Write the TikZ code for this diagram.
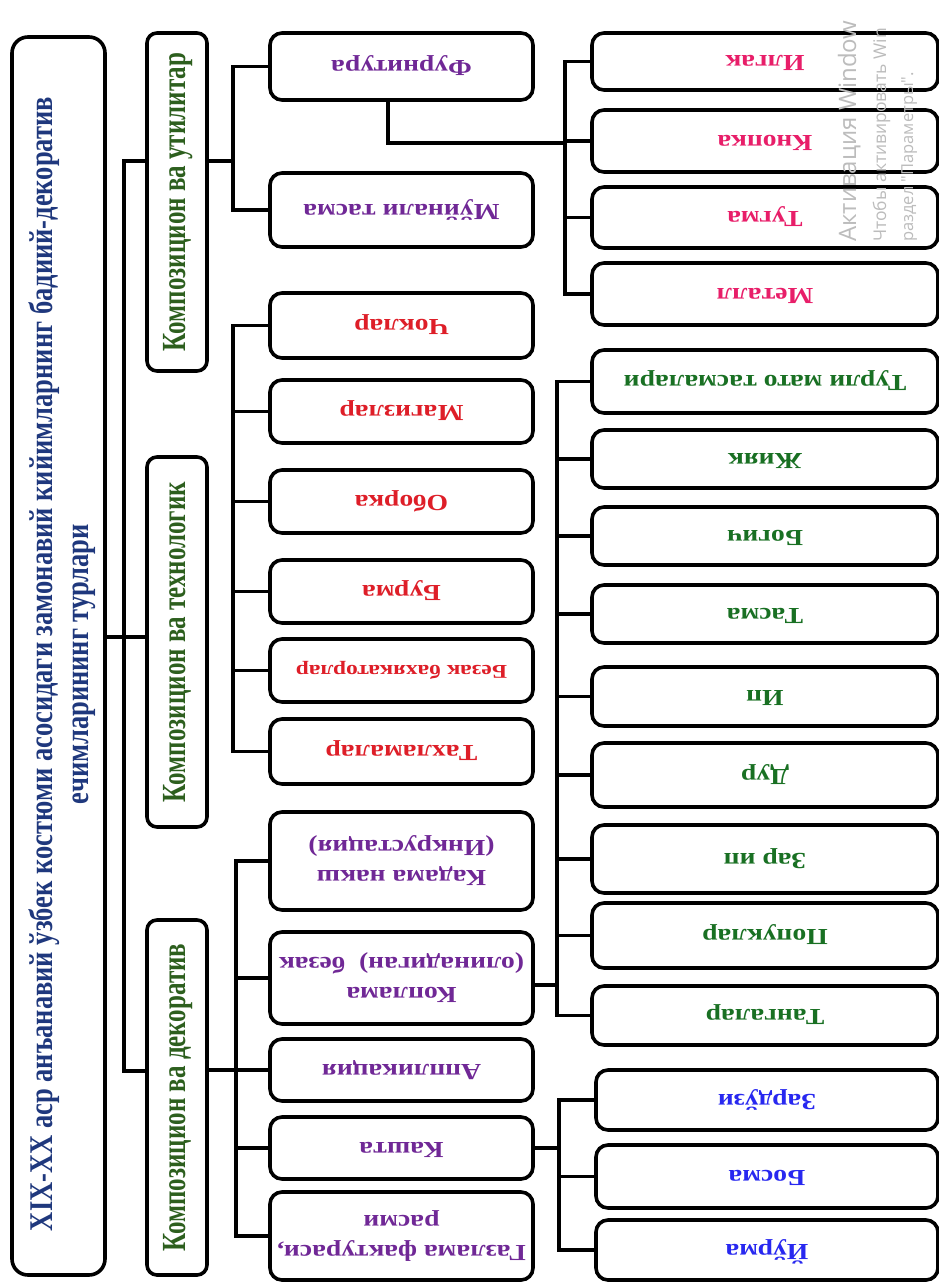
\documentclass[tikz,border=0pt]{standalone}
\usepackage{fontspec}
\setmainfont{Liberation Serif}
\newfontfamily\wmfont{Open Sans}
\usepackage{graphicx}
\definecolor{navy}{RGB}{31,56,125}
\definecolor{lvgreen}{RGB}{45,95,30}
\definecolor{cpurple}{RGB}{112,40,150}
\definecolor{cred}{RGB}{222,30,40}
\definecolor{cpink}{RGB}{232,30,105}
\definecolor{cgreen}{RGB}{25,112,35}
\definecolor{cblue}{RGB}{40,40,240}
\definecolor{wm}{RGB}{188,188,188}
\newcommand{\UD}[2]{\rotatebox{180}{\scalebox{1.2}[1]{\color{#1}\begin{tabular}{@{}c@{}}#2\end{tabular}}}}
\newcommand{\UP}[3]{\rotatebox{90}{\scalebox{1}[#1]{\color{#2}\begin{tabular}{@{}c@{}}#3\end{tabular}}}}
\newcommand{\Bx}[7][]{\node[box,#1, minimum width={#5pt-#3pt}, minimum height={#6pt-#4pt}] (#2) at ({(#3+#5)/2},{(#4+#6)/2}) {#7};}
\begin{document}
\begin{tikzpicture}[x=1pt,y=-1pt,
  box/.style={draw=black, line width=3.6pt, rounded corners=12pt, inner sep=0pt, fill=white,
    font=\bfseries\fontsize{23}{30}\selectfont},
  lvone/.style={rounded corners=10pt, font=\bfseries\fontsize{25}{30}\selectfont},
  ttl/.style={rounded corners=16pt},
  small/.style={font=\bfseries\fontsize{19.5}{24}\selectfont},
  wire/.style={line width=3.2pt, line join=miter, line cap=rect},
  wmtext/.style={rotate=90, anchor=base west, inner sep=0pt, text=wm}]
\useasboundingbox (0,0) rectangle (939,1283);
\fill[white] (0,0) rectangle (939,1283);

% title and level 1
\Bx[ttl]{title}{12}{37}{105}{1275}{}
\node[inner sep=0pt, font=\bfseries\fontsize{26.5}{29}\selectfont] (titletext) at (63,664)
  {\UP{1.25}{navy}{XIX-XX аср анъанавий ўзбек костюми асосидаги замонавий кийимларнинг бадиий-декоратив\\ечимларининг турлари}};
\Bx[lvone]{U}{147}{33}{207}{371}{\UP{1.35}{lvgreen}{Композицион ва утилитар}}
\Bx[lvone]{T}{147}{457}{207}{827}{\UP{1.35}{lvgreen}{Композицион ва технологик}}
\Bx[lvone]{D}{147}{920}{207}{1275}{\UP{1.35}{lvgreen}{Композицион ва декоратив}}

% level 2
\Bx{fur}{270}{33}{533}{100}{\UD{cpurple}{Фурнитура}}
\Bx{muy}{270}{173}{533}{247}{\UD{cpurple}{Мўйнали тасма}}
\Bx{chok}{270}{293}{533}{358}{\UD{cred}{Чоклар}}
\Bx{mag}{270}{380}{533}{443}{\UD{cred}{Магизлар}}
\Bx{obo}{270}{470}{533}{533}{\UD{cred}{Оборка}}
\Bx{bur}{270}{560}{533}{623}{\UD{cred}{Бурма}}
\Bx[small]{bez}{270}{639}{533}{702}{\UD{cred}{Безак бахякаторлар}}
\Bx{tax}{270}{719}{533}{784}{\UD{cred}{Тахламалар}}
\Bx{kad}{270}{812}{533}{910}{\UD{cpurple}{Кадама накш\\(Инкрустация)}}
\Bx{kop}{270}{932}{533}{1024}{\UD{cpurple}{Коплама\\(олинадиган)\ \ безак}}
\Bx{app}{270}{1039}{533}{1101}{\UD{cpurple}{Аппликация}}
\Bx{kash}{270}{1117}{533}{1179}{\UD{cpurple}{Кашта}}
\Bx{gaz}{270}{1192}{533}{1280}{\UD{cpurple}{Газлама фактураси,\\расми}}

% level 3
\Bx{ilg}{592}{33}{938}{90}{\UD{cpink}{Илгак}}
\Bx{kno}{592}{110}{938}{172}{\UD{cpink}{Кнопка}}
\Bx{tug}{592}{187}{938}{248}{\UD{cpink}{Тугма}}
\Bx{met}{592}{263}{938}{325}{\UD{cpink}{Металл}}
\Bx{tur}{592}{350}{938}{413}{\UD{cgreen}{Турли мато тасмалари}}
\Bx{jiy}{592}{430}{938}{488}{\UD{cgreen}{Жияк}}
\Bx{bog}{592}{507}{938}{565}{\UD{cgreen}{Богич}}
\Bx{tas}{592}{585}{938}{643}{\UD{cgreen}{Тасма}}
\Bx{ip}{592}{667}{938}{726}{\UD{cgreen}{Ип}}
\Bx{dur}{592}{743}{938}{807}{\UD{cgreen}{Дур}}
\Bx{zar}{592}{825}{938}{893}{\UD{cgreen}{Зар ип}}
\Bx{pop}{592}{903}{938}{968}{\UD{cgreen}{Попуклар}}
\Bx{tan}{592}{986}{938}{1045}{\UD{cgreen}{Тангалар}}
\Bx{zard}{596}{1070}{938}{1130}{\UD{cblue}{Зардўзи}}
\Bx{bos}{596}{1145}{938}{1208}{\UD{cblue}{Босма}}
\Bx{yur}{596}{1220}{938}{1280}{\UD{cblue}{Йўрма}}

% junction coordinates
\coordinate (jT) at (124,637);
\coordinate (jU) at (124,161);
\coordinate (jD) at (124,1071);
\coordinate (busU) at (233,0);
\coordinate (busT) at (233,0);
\coordinate (busD) at (236,0);
\coordinate (fJ) at (388,143);
\coordinate (busP) at (565,0);
\coordinate (busG) at (557,0);
\coordinate (busB) at (559,0);

% title -> level 1
\draw[wire] (title.east |- jT) -- (T.west |- jT);
\draw[wire] (U.west |- jU) -- (jU) -- (jD) -- (D.west |- jD);

% utilitar
\draw[wire] (U.east |- jU) -- (busU |- jU);
\draw[wire] (fur.west) -- (fur.west -| busU) |- (muy.west);

% technolog
\draw[wire] (chok.west) -- (chok.west -| busT) |- (tax.west);
\draw[wire] (mag.west) -- (mag.west -| busT);
\draw[wire] (obo.west) -- (obo.west -| busT);
\draw[wire] (bur.west) -- (bur.west -| busT);
\draw[wire] (bez.west) -- (bez.west -| busT);

% decorativ
\draw[wire] (D.east |- app.west) -- (app.west);
\draw[wire] (kad.west) -- (kad.west -| busD) |- (gaz.west);
\draw[wire] (kop.west) -- (kop.west -| busD);
\draw[wire] (kash.west) -- (kash.west -| busD);

% furnitura -> pink
\draw[wire] (fur.south -| fJ) -- (fJ) -- (fJ -| busP);
\draw[wire] (ilg.west) -- (ilg.west -| busP) |- (met.west);
\draw[wire] (kno.west) -- (kno.west -| busP);
\draw[wire] (tug.west) -- (tug.west -| busP);

% koplama -> green
\draw[wire] ([yshift=-7pt]kop.east) -- ([yshift=-7pt]kop.east -| busG);
\draw[wire] (tur.west) -- (tur.west -| busG) |- (tan.west);
\foreach \n in {jiy,bog,tas,ip,dur,zar,pop}
  \draw[wire] (\n.west) -- (\n.west -| busG);

% kashta -> blue
\draw[wire] (kash.east) -- (kash.east -| busB);
\draw[wire] (zard.west) -- (zard.west -| busB) |- (yur.west);
\draw[wire] (bos.west) -- (bos.west -| busB);

% watermark (on top)
\node[wmtext, font=\wmfont\fontsize{24}{24}\selectfont] (wm1) at (856,242) {Активация Window};
\node[wmtext, font=\wmfont\fontsize{17.5}{17.5}\selectfont] (wm2) at (886,242) {Чтобы активировать Win};
\node[wmtext, font=\wmfont\fontsize{16.5}{16.5}\selectfont] (wm3) at (913,242) {раздел "Параметры".};
\end{tikzpicture}
\end{document}
